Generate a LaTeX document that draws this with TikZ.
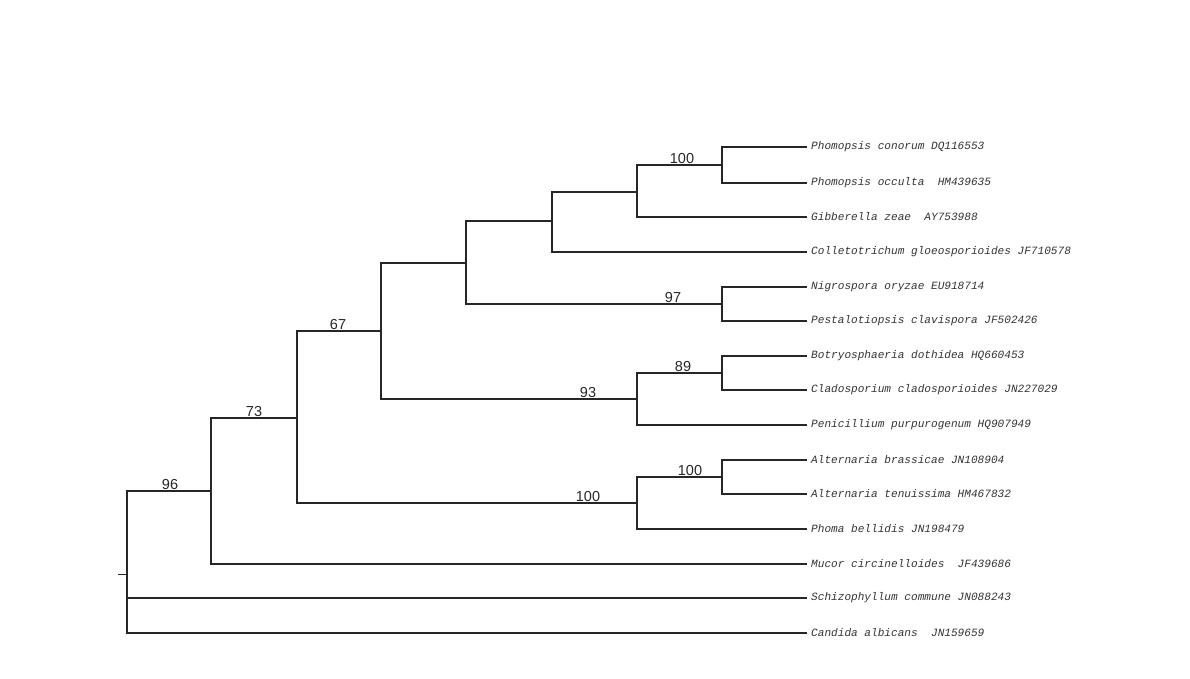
\documentclass[tikz,border=0pt]{standalone}
\usepackage{fontspec}
\setmainfont{Liberation Sans}
\newfontfamily\leaffont{Liberation Mono}
\begin{document}
\begin{tikzpicture}[x=1pt,y=-1pt,
  br/.style={line width=1.15pt,color=black!85},
  bbr/.style={line width=1.7pt,color=black!85},
  leaf/.style={anchor=west,inner xsep=4pt,inner ysep=0pt,font=\leaffont\itshape\fontsize{11.1}{12}\selectfont,text=black!80},
  bs/.style={anchor=south,inner sep=1.2pt,font=\fontsize{14.5}{15}\selectfont,text=black!85}]
\useasboundingbox (0,0) rectangle (1190,679);
% leaves
\node[leaf] (l1) at (807,147) {Phomopsis conorum DQ116553};
\node[leaf] (l2) at (807,183) {Phomopsis occulta\ \ HM439635};
\node[leaf] (l3) at (807,217) {Gibberella zeae\ \ AY753988};
\node[leaf] (l4) at (807,252) {Colletotrichum gloeosporioides JF710578};
\node[leaf] (l5) at (807,287) {Nigrospora oryzae EU918714};
\node[leaf] (l6) at (807,321) {Pestalotiopsis clavispora JF502426};
\node[leaf] (l7) at (807,356) {Botryosphaeria dothidea HQ660453};
\node[leaf] (l8) at (807,390) {Cladosporium cladosporioides JN227029};
\node[leaf] (l9) at (807,425) {Penicillium purpurogenum HQ907949};
\node[leaf] (l10) at (807,460) {Alternaria brassicae JN108904};
\node[leaf] (l11) at (807,494) {Alternaria tenuissima HM467832};
\node[leaf] (l12) at (807,529) {Phoma bellidis JN198479};
\node[leaf] (l13) at (807,564) {Mucor circinelloides\ \ JF439686};
\node[leaf] (l14) at (807,598) {Schizophyllum commune JN088243};
\node[leaf] (l15) at (807,633) {Candida albicans\ \ JN159659};
% internal nodes
\coordinate (n1) at (722,165);
\coordinate (n2) at (637,192);
\coordinate (n3) at (552,221);
\coordinate (n4) at (722,304);
\coordinate (n5) at (466,263);
\coordinate (n6) at (722,373);
\coordinate (n7) at (637,399);
\coordinate (n8) at (381,331);
\coordinate (n9) at (722,477);
\coordinate (n10) at (637,503);
\coordinate (n11) at (297,418);
\coordinate (n12) at (211,491);
\coordinate (root) at (127,574);
\coordinate (rt) at (118,574);
% branches
\draw[bbr] (n1) |- (l1.west);
\draw[br] (n1) |- (l2.west);
\draw[br] (n2) |- (n1);
\draw[br] (n2) |- (l3.west);
\draw[br] (n3) |- (n2);
\draw[br] (n3) |- (l4.west);
\draw[br] (n4) |- (l5.west);
\draw[br] (n4) |- (l6.west);
\draw[br] (n5) |- (n3);
\draw[bbr] (n5) |- (n4);
\draw[bbr] (n6) |- (l7.west);
\draw[br] (n6) |- (l8.west);
\draw[bbr] (n7) |- (n6);
\draw[br] (n7) |- (l9.west);
\draw[br] (n8) |- (n5);
\draw[bbr] (n8) |- (n7);
\draw[br] (n9) |- (l10.west);
\draw[br] (n9) |- (l11.west);
\draw[br] (n10) |- (n9);
\draw[br] (n10) |- (l12.west);
\draw[br] (n11) |- (n8);
\draw[br] (n11) |- (n10);
\draw[br] (n12) |- (n11);
\draw[br] (n12) |- (l13.west);
\draw[bbr] (root) |- (n12);
\draw[bbr] (root) |- (l14.west);
\draw[br] (root) |- (l15.west);
\draw[br,line width=0.9pt] (rt) -- (root);
% bootstrap values
\node[bs] (b1) at (682,165) {100};
\node[bs] (b2) at (673,304) {97};
\node[bs] (b3) at (683,373) {89};
\node[bs] (b4) at (588,399) {93};
\node[bs] (b5) at (338,331) {67};
\node[bs] (b6) at (690,477) {100};
\node[bs] (b7) at (588,503) {100};
\node[bs] (b8) at (254,418) {73};
\node[bs] (b9) at (170,491) {96};
\end{tikzpicture}
\end{document}
